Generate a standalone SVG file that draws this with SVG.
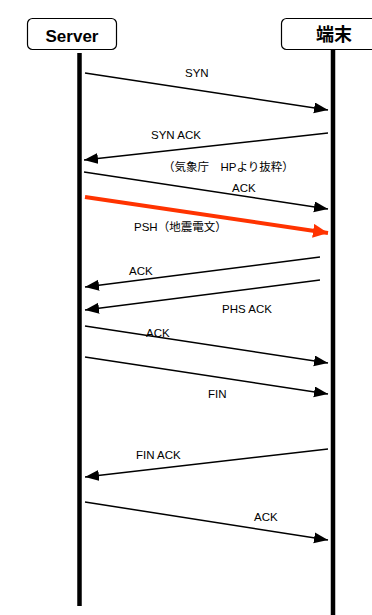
<svg xmlns="http://www.w3.org/2000/svg" width="372" height="615" viewBox="0 0 372 615">
<style>
.box{fill:#fff;stroke:#000;stroke-width:1.2}
.life{stroke:#000;stroke-width:4.5}
.msg{stroke:#000;stroke-width:1.5;fill:none}
.red{stroke:#ff3300;stroke-width:4;fill:none}
.hd{font-family:"Liberation Sans","Noto Sans CJK JP",sans-serif;font-weight:bold;text-anchor:middle}
.lb{font-family:"Liberation Sans","Noto Sans CJK JP",sans-serif;font-size:11.5px;fill:#000}
</style>
<defs>
<marker id="ah" markerUnits="userSpaceOnUse" markerWidth="16" markerHeight="14" refX="14" refY="5.5" orient="auto" viewBox="0 0 16 14">
<path d="M0,0 L14,5.5 L0,11 Z" fill="#000"/>
</marker>
<marker id="ahr" markerUnits="userSpaceOnUse" markerWidth="18" markerHeight="16" refX="15" refY="7" orient="auto" viewBox="0 0 18 16">
<path d="M0,0 L15,7 L0,14 Z" fill="#ff3300"/>
</marker>
</defs>
<rect width="372" height="615" fill="#fff"/>
<g id="server">
<rect class="box" x="27.5" y="18.5" width="89" height="31" rx="5"/>
<text class="hd" x="72" y="42" font-size="17">Server</text>
<line class="life" x1="79.5" y1="53" x2="79.5" y2="606"/>
</g>
<g id="terminal">
<rect class="box" x="281.5" y="18.5" width="100" height="31" rx="5"/>
<text class="hd" x="334" y="41" font-size="18">端末</text>
<line class="life" x1="333" y1="50" x2="333" y2="615"/>
</g>
<g id="connectors">
<line class="msg" x1="85" y1="73" x2="328" y2="110" marker-end="url(#ah)"/>
<line class="msg" x1="328" y1="133" x2="84" y2="160" marker-end="url(#ah)"/>
<line class="msg" x1="84" y1="172" x2="328" y2="209" marker-end="url(#ah)"/>
<line class="red" x1="85" y1="197" x2="328" y2="233" marker-end="url(#ahr)"/>
<line class="msg" x1="320" y1="257" x2="85" y2="287" marker-end="url(#ah)"/>
<line class="msg" x1="320" y1="280" x2="85" y2="310" marker-end="url(#ah)"/>
<line class="msg" x1="85" y1="326" x2="328" y2="363" marker-end="url(#ah)"/>
<line class="msg" x1="85" y1="357" x2="328" y2="394" marker-end="url(#ah)"/>
<line class="msg" x1="328" y1="449" x2="85" y2="477" marker-end="url(#ah)"/>
<line class="msg" x1="85" y1="502" x2="328" y2="540" marker-end="url(#ah)"/>
</g>
<g id="labels">
<text class="lb" x="185" y="77">SYN</text>
<text class="lb" x="151" y="139">SYN ACK</text>
<text class="lb" x="163" y="171" xml:space="preserve">（気象庁　HPより抜粋）</text>
<text class="lb" x="232" y="192">ACK</text>
<text class="lb" x="134" y="231">PSH（地震電文）</text>
<text class="lb" x="129" y="275">ACK</text>
<text class="lb" x="222" y="313">PHS ACK</text>
<text class="lb" x="146" y="337">ACK</text>
<text class="lb" x="208" y="398">FIN</text>
<text class="lb" x="136" y="459">FIN ACK</text>
<text class="lb" x="254" y="521">ACK</text>
</g>
</svg>
